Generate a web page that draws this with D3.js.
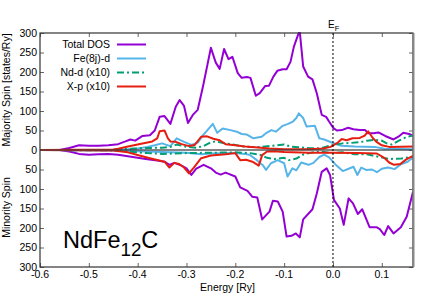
<!DOCTYPE html>
<html><head><meta charset="utf-8">
<script src="https://cdn.jsdelivr.net/npm/d3@7"></script>
<style>body{margin:0;background:#fff}svg{display:block}text{font-family:"Liberation Sans",Arial,sans-serif;fill:#000}</style>
</head><body><svg id="c" width="428" height="300"></svg>
<script>
// ---- data: [energy (Ry), DOS] ----
const totalUp = [[-0.6,0],[-0.56,0],[-0.54,5],[-0.52,12],[-0.50,11],[-0.48,11],[-0.46,12],[-0.44,15],[-0.425,22],[-0.415,27],[-0.405,24],[-0.39,36],[-0.375,38],[-0.365,50],[-0.355,85],[-0.345,87],[-0.333,67],[-0.322,111],[-0.314,128],[-0.305,113],[-0.297,69],[-0.287,90],[-0.277,103],[-0.266,164],[-0.25,262],[-0.24,224],[-0.232,208],[-0.223,259],[-0.214,233],[-0.206,239],[-0.195,197],[-0.187,185],[-0.176,187],[-0.169,185],[-0.158,139],[-0.15,146],[-0.139,164],[-0.131,165],[-0.122,188],[-0.114,203],[-0.103,207],[-0.095,207],[-0.087,226],[-0.08,265],[-0.071,297],[-0.068,304],[-0.061,214],[-0.051,188],[-0.042,181],[-0.033,145],[-0.023,90],[-0.014,85],[-0.008,73],[0.001,56],[0.008,50],[0.018,51],[0.031,57],[0.042,53],[0.055,51],[0.066,51],[0.072,43],[0.083,43],[0.093,45],[0.107,36],[0.124,27],[0.134,34],[0.144,44],[0.156,41],[0.164,36]];
const totalDn = [[-0.6,0],[-0.56,0],[-0.54,-4],[-0.52,-10],[-0.50,-12],[-0.48,-11],[-0.46,-10],[-0.44,-12],[-0.42,-16],[-0.40,-20],[-0.38,-24],[-0.36,-27],[-0.345,-30],[-0.335,-38],[-0.325,-33],[-0.31,-40],[-0.30,-47],[-0.29,-64],[-0.28,-48],[-0.265,-38],[-0.25,-47],[-0.24,-58],[-0.23,-63],[-0.22,-58],[-0.20,-68],[-0.19,-96],[-0.175,-105],[-0.165,-120],[-0.155,-122],[-0.145,-178],[-0.13,-158],[-0.123,-130],[-0.113,-132],[-0.103,-158],[-0.095,-222],[-0.085,-220],[-0.076,-214],[-0.068,-224],[-0.061,-178],[-0.042,-152],[-0.033,-111],[-0.023,-56],[-0.013,-47],[-0.006,-64],[0.002,-128],[0.014,-150],[0.022,-192],[0.032,-124],[0.041,-137],[0.051,-164],[0.06,-152],[0.075,-198],[0.089,-198],[0.096,-203],[0.105,-218],[0.113,-195],[0.124,-214],[0.139,-198],[0.151,-171],[0.164,-107]];
const feUp = [[-0.6,0],[-0.45,0],[-0.42,2],[-0.40,4],[-0.38,8],[-0.365,12],[-0.35,17],[-0.333,10],[-0.32,30],[-0.305,21],[-0.29,13],[-0.277,19],[-0.266,38],[-0.246,67],[-0.237,44],[-0.226,55],[-0.21,51],[-0.197,47],[-0.187,41],[-0.177,40],[-0.163,30],[-0.146,34],[-0.136,44],[-0.126,51],[-0.117,47],[-0.103,62],[-0.092,67],[-0.082,73],[-0.075,82],[-0.07,94],[-0.061,82],[-0.054,60],[-0.037,62],[-0.028,30],[-0.018,27],[0.0,18],[0.017,11],[0.045,9],[0.085,8],[0.106,3],[0.164,2]];
const feDn = [[-0.6,0],[-0.45,-1],[-0.4,-3],[-0.35,-5],[-0.3,-7],[-0.27,-11],[-0.25,-9],[-0.2,-8],[-0.18,-10],[-0.17,-13],[-0.156,-26],[-0.143,-40],[-0.137,-51],[-0.127,-34],[-0.113,-26],[-0.1,-34],[-0.093,-68],[-0.083,-47],[-0.075,-52],[-0.065,-32],[-0.05,-38],[-0.04,-33],[-0.028,-18],[-0.018,-12],[-0.008,-19],[0.005,-37],[0.02,-54],[0.032,-48],[0.042,-43],[0.05,-64],[0.058,-45],[0.068,-51],[0.08,-50],[0.09,-57],[0.1,-48],[0.113,-45],[0.126,-49],[0.14,-36],[0.153,-30],[0.164,-19]];
const ndUp = [[-0.6,0],[-0.45,0],[-0.42,3],[-0.38,5],[-0.35,6],[-0.333,8],[-0.32,14],[-0.30,8],[-0.28,6],[-0.265,10],[-0.25,20],[-0.24,22],[-0.225,18],[-0.205,14],[-0.185,9],[-0.17,8],[-0.15,8],[-0.123,11],[-0.1,14],[-0.087,9],[-0.07,7],[-0.05,5],[-0.027,4],[0,13],[0.02,17],[0.035,18],[0.055,20],[0.07,24],[0.083,26],[0.1,24],[0.11,17],[0.12,14],[0.135,24],[0.15,33],[0.164,37]];
const ndDn = [[-0.6,0],[-0.45,-1],[-0.42,-4],[-0.38,-8],[-0.35,-10],[-0.3,-8],[-0.25,-7],[-0.2,-6],[-0.17,-8],[-0.15,-12],[-0.135,-20],[-0.12,-23],[-0.1,-20],[-0.09,-26],[-0.075,-22],[-0.06,-11],[-0.04,-6],[-0.025,-4],[-0.005,-8],[0.02,-6],[0.045,-11],[0.07,-11],[0.095,-18],[0.115,-23],[0.14,-22],[0.164,-17]];
const xpUp = [[-0.6,0],[-0.45,1],[-0.44,3],[-0.42,9],[-0.40,14],[-0.385,18],[-0.37,22],[-0.36,30],[-0.355,48],[-0.345,50],[-0.338,30],[-0.333,22],[-0.322,21],[-0.31,15],[-0.295,10],[-0.283,13],[-0.27,34],[-0.258,35],[-0.245,29],[-0.232,25],[-0.22,15],[-0.2,12],[-0.18,9],[-0.16,7],[-0.13,4],[-0.1,2],[-0.05,2],[-0.02,4],[-0.005,8],[0.01,19],[0.018,28],[0.028,25],[0.04,30],[0.055,31],[0.065,37],[0.072,48],[0.082,30],[0.09,20],[0.1,12],[0.115,8],[0.164,9]];
const xpDn = [[-0.6,0],[-0.45,-1],[-0.42,-6],[-0.4,-13],[-0.375,-21],[-0.345,-30],[-0.335,-45],[-0.325,-33],[-0.315,-36],[-0.305,-45],[-0.295,-60],[-0.285,-45],[-0.27,-21],[-0.25,-14],[-0.22,-11],[-0.2,-8],[-0.19,-26],[-0.178,-25],[-0.165,-30],[-0.152,-40],[-0.145,-13],[-0.135,-4],[-0.12,-3],[-0.1,-5],[-0.05,-7],[0.0,-7],[0.05,-8],[0.09,-9],[0.105,-20],[0.115,-32],[0.125,-38],[0.138,-36],[0.15,-24],[0.164,-15]];
const seriesNames = ["Total DOS","Fe(8j)-d","Nd-d (x10)","X-p (x10)"];
const seriesColors = ["#9400D3","#56B4E9","#009E73","#E51E10"];
const xTicks = [-0.6,-0.5,-0.4,-0.3,-0.2,-0.1,0.0,0.1];
const yTicks = [-300,-250,-200,-150,-100,-50,0,50,100,150,200,250,300];

const svg = d3.select("#c");
const L=40,R=413,T=33,B=267;
const x = d3.scaleLinear().domain([-0.6,0.1639]).range([L,R]);
const y = d3.scaleLinear().domain([-300,300]).range([B,T]);
const FS = "10.5px";

svg.append("clipPath").attr("id","clp").append("rect").attr("x",L).attr("y",T-1).attr("width",R-L).attr("height",B-T+1);

// ticks (inside) via axes
const axB = svg.append("g").attr("transform",`translate(0,${B})`).call(d3.axisTop(x).tickValues(xTicks).tickSize(4).tickFormat(""));
const axT = svg.append("g").attr("transform",`translate(0,${T})`).call(d3.axisBottom(x).tickValues(xTicks).tickSize(4).tickFormat(""));
const axL = svg.append("g").attr("transform",`translate(${L},0)`).call(d3.axisRight(y).tickValues(yTicks).tickSize(4).tickFormat(""));
const axR = svg.append("g").attr("transform",`translate(${R},0)`).call(d3.axisLeft(y).tickValues(yTicks).tickSize(4).tickFormat(""));
[axB,axT,axL,axR].forEach(g=>{g.select(".domain").remove();g.selectAll("line").attr("stroke","#666");});

// labels
svg.append("g").selectAll("text").data(xTicks).join("text")
  .attr("x",d=>x(d)).attr("y",278).attr("text-anchor","middle").style("font-size",FS)
  .text(d=>d3.format(".1f")(d).replace("−","-"));
svg.append("g").selectAll("text").data(yTicks).join("text")
  .attr("x",37).attr("y",d=>y(d)+3.6).attr("text-anchor","end").style("font-size",FS)
  .text(d=>Math.abs(d));

// curves
const line = d3.line().x(d=>x(d[0])).y(d=>y(d[1]));
const plot = svg.append("g").attr("clip-path","url(#clp)");
const groups = [[totalUp,totalDn],[feUp,feDn],[ndUp,ndDn],[xpUp,xpDn]];
groups.forEach((pair,i)=>{
  pair.forEach(s=>{
    plot.append("path").datum(s).attr("d",line).attr("fill","none")
      .attr("stroke",seriesColors[i]).attr("stroke-width",2)
      .attr("stroke-linejoin","round")
      .attr("stroke-dasharray", i===2 ? "7,3,2,3" : null);
  });
});
// zero line
svg.append("line").attr("x1",L).attr("x2",R).attr("y1",y(0)).attr("y2",y(0)).attr("stroke","#404040").attr("stroke-width",1.6).attr("stroke-opacity",0.85);
// Fermi level
svg.append("line").attr("x1",x(0)).attr("x2",x(0)).attr("y1",T).attr("y2",B).attr("stroke","#000").attr("stroke-width",1).attr("stroke-dasharray","2,2");
const ef = svg.append("text").attr("x",x(0)-5).attr("y",28).style("font-size","10px");
ef.append("tspan").text("E");
ef.append("tspan").attr("dy",2.5).style("font-size","7.5px").text("F");

// frame
svg.append("rect").attr("x",L).attr("y",T).attr("width",R-L).attr("height",B-T).attr("fill","none").attr("stroke","#333").attr("stroke-width",1.2);
svg.append("line").attr("x1",R+0.5).attr("x2",R+0.5).attr("y1",T).attr("y2",B).attr("stroke","#888").attr("stroke-width",2);

// legend
const lg = svg.append("g");
seriesNames.forEach((n,i)=>{
  const yy = 44.5 + i*14;
  lg.append("text").attr("x",110).attr("y",yy+3.8).attr("text-anchor","end").style("font-size",FS).text(n);
  lg.append("line").attr("x1",117).attr("x2",146).attr("y1",yy).attr("y2",yy)
    .attr("stroke",seriesColors[i]).attr("stroke-width",2).attr("stroke-dasharray", i===2 ? "7,3,2,3" : null);
});

// axis titles
svg.append("text").attr("transform","translate(10,90) rotate(-90)").attr("text-anchor","middle").style("font-size",FS).text("Majority Spin [states/Ry]");
svg.append("text").attr("transform","translate(10,207.5) rotate(-90)").attr("text-anchor","middle").style("font-size",FS).text("Minority Spin");
svg.append("text").attr("x",227.5).attr("y",290.5).attr("text-anchor","middle").style("font-size",FS).text("Energy [Ry]");

// compound name
const nm = svg.append("text").attr("x",63).attr("y",247.5).style("font-size","23.5px");
nm.append("tspan").text("NdFe");
nm.append("tspan").attr("dy",8).style("font-size","18.8px").text("12");
nm.append("tspan").attr("dy",-8).text("C");
</script></body></html>
